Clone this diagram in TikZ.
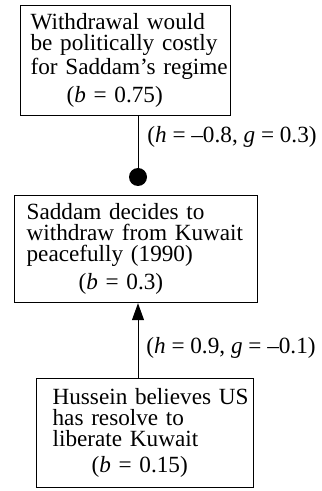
\documentclass[tikz,border=0pt]{standalone}
\usepackage{fontspec}
\setmainfont{Liberation Serif}
\usetikzlibrary{arrows.meta}

\tikzset{
  claim/.style={draw, line width=0.6pt, anchor=north west, align=left,
    inner sep=0pt, font=\fontsize{11.6}{10.5}\selectfont},
  pad/.style={execute at begin node={\leftskip=#1}},
  link/.style={line width=0.5pt},
  weight/.style={anchor=west, inner sep=0pt, font=\fontsize{11.6}{10.5}\selectfont},
}
\newcommand{\belief}[2]{\\[2.5pt]\hspace*{#1}(\textit{b} = #2)}

\begin{document}
\begin{tikzpicture}[x=0.5pt,y=-0.5pt]
\useasboundingbox (0,0) rectangle (321,491);
\node[claim, pad=5pt, text width=105pt, minimum height=55pt] (costly) at (20,5)
  {Withdrawal would\\be politically costly\\for Saddam's regime\belief{18pt}{0.75}};
\node[claim, pad=6pt, text width=121.5pt, minimum height=53.5pt] (withdraw) at (14,195)
  {Saddam decides to\\withdraw from Kuwait\\peacefully (1990)\belief{26pt}{0.3}};
\node[claim, pad=8pt, text width=108.5pt, minimum height=54.5pt] (resolve) at (36,378)
  {Hussein believes US\\has resolve to\\liberate Kuwait\belief{19.5pt}{0.15}};
\node[circle, fill, inner sep=0pt, minimum size=9pt] (knob) at (138,177) {};
\draw[link] (knob |- costly.south) -- (knob.north);
\draw[link, -{Triangle[width=6pt,length=8.5pt]}] (knob |- resolve.north) -- (knob |- withdraw.south);
\node[weight] (hurt) at (147,137) {(\textit{h} = –0.8, \textit{g} = 0.3)};
\node[weight] (push) at (146,348) {(\textit{h} = 0.9, \textit{g} = –0.1)};
\end{tikzpicture}
\end{document}
